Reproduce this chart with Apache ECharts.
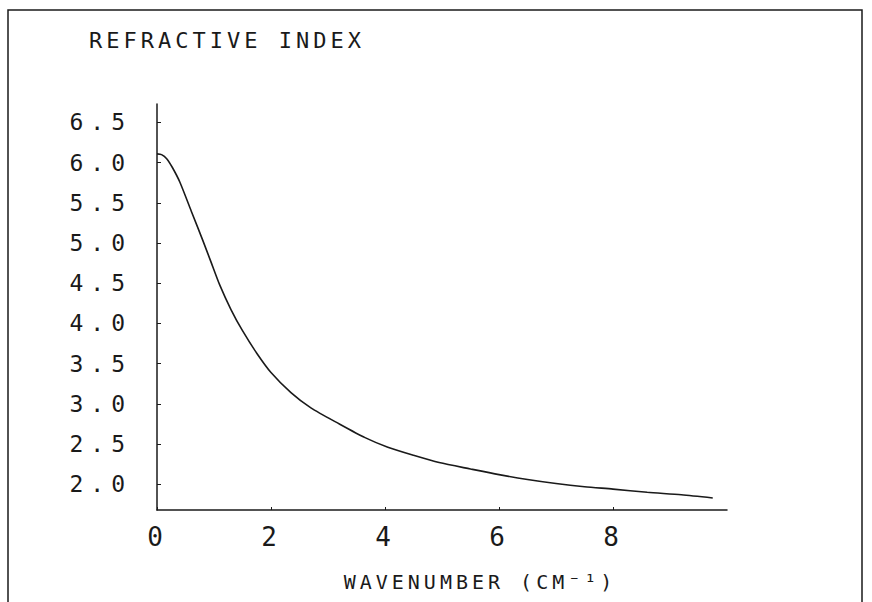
<!DOCTYPE html>
<html>
<head>
<meta charset="utf-8">
<script src="https://cdn.jsdelivr.net/npm/echarts@6/dist/echarts.min.js"></script>
<style>
html,body{margin:0;padding:0;background:#fff;}
#chart{width:872px;height:602px;}
#chart svg text{letter-spacing:4px;}
#chart svg text[style*="23px"]{letter-spacing:7px;}
</style>
</head>
<body>
<div id="chart"></div>
<script>
// Data
const wavenumber = [0, 0.08, 0.17, 0.27, 0.4, 0.6, 0.8, 0.95, 1.1, 1.3, 1.5, 1.75, 2.0, 2.35, 2.7, 3.2, 3.65, 4.05, 4.5, 4.95, 5.5, 6.0, 6.5, 7.0, 7.5, 8.0, 8.6, 9.2, 9.75];
const refractiveIndex = [6.11, 6.10, 6.05, 5.94, 5.76, 5.40, 5.04, 4.76, 4.48, 4.17, 3.91, 3.63, 3.39, 3.14, 2.95, 2.75, 2.58, 2.46, 2.36, 2.27, 2.19, 2.12, 2.06, 2.01, 1.97, 1.94, 1.90, 1.87, 1.83];
const xTicks = [0, 2, 4, 6, 8];
const yTicks = [2.0, 2.5, 3.0, 3.5, 4.0, 4.5, 5.0, 5.5, 6.0, 6.5];
const titleText = 'REFRACTIVE INDEX';
const xName = 'WAVENUMBER (CM\u207B\u00B9)';

const font = "'DejaVu Sans Mono', monospace";
const ink = '#1a1a1a';
const chart = echarts.init(document.getElementById('chart'), null, {renderer: 'svg'});
chart.setOption({
  animation: false,
  backgroundColor: '#fff',
  title: {
    text: titleText,
    left: 84,
    top: 24,
    textStyle: {fontFamily: font, fontSize: 22, fontWeight: 'normal', color: ink}
  },
  graphic: [{
    type: 'polyline',
    shape: {points: [[8, 602], [8, 10], [862, 10], [862, 602]]},
    style: {stroke: ink, lineWidth: 1.5, fill: null}
  }],
  grid: {left: 157, top: 104, right: 145, bottom: 92, containLabel: false, outerBoundsMode: 'none'},
  xAxis: {
    type: 'value',
    min: 0,
    max: 10,
    name: xName,
    nameLocation: 'middle',
    nameGap: 62,
    nameTextStyle: {fontFamily: font, fontSize: 20, color: ink, padding: [0, 0, 0, 76]},
    axisLine: {show: true, lineStyle: {color: ink, width: 1.5}},
    axisTick: {show: true, inside: true, length: 3, customValues: xTicks, lineStyle: {color: ink}},
    axisLabel: {customValues: xTicks, fontFamily: font, fontSize: 26, color: ink, margin: 14},
    splitLine: {show: false}
  },
  yAxis: {
    type: 'value',
    min: 1.68,
    max: 6.73,
    axisLine: {show: true, lineStyle: {color: ink, width: 1.5}},
    axisTick: {show: true, inside: true, length: 4, customValues: yTicks, lineStyle: {color: ink}},
    axisLabel: {customValues: yTicks, fontFamily: font, fontSize: 23, color: ink, margin: 25,
      formatter: v => v.toFixed(1)},
    splitLine: {show: false}
  },
  series: [{
    type: 'line',
    data: wavenumber.map((x, i) => [x, refractiveIndex[i]]),
    smooth: 0.25,
    showSymbol: false,
    lineStyle: {color: ink, width: 1.6}
  }]
});
</script>
</body>
</html>
